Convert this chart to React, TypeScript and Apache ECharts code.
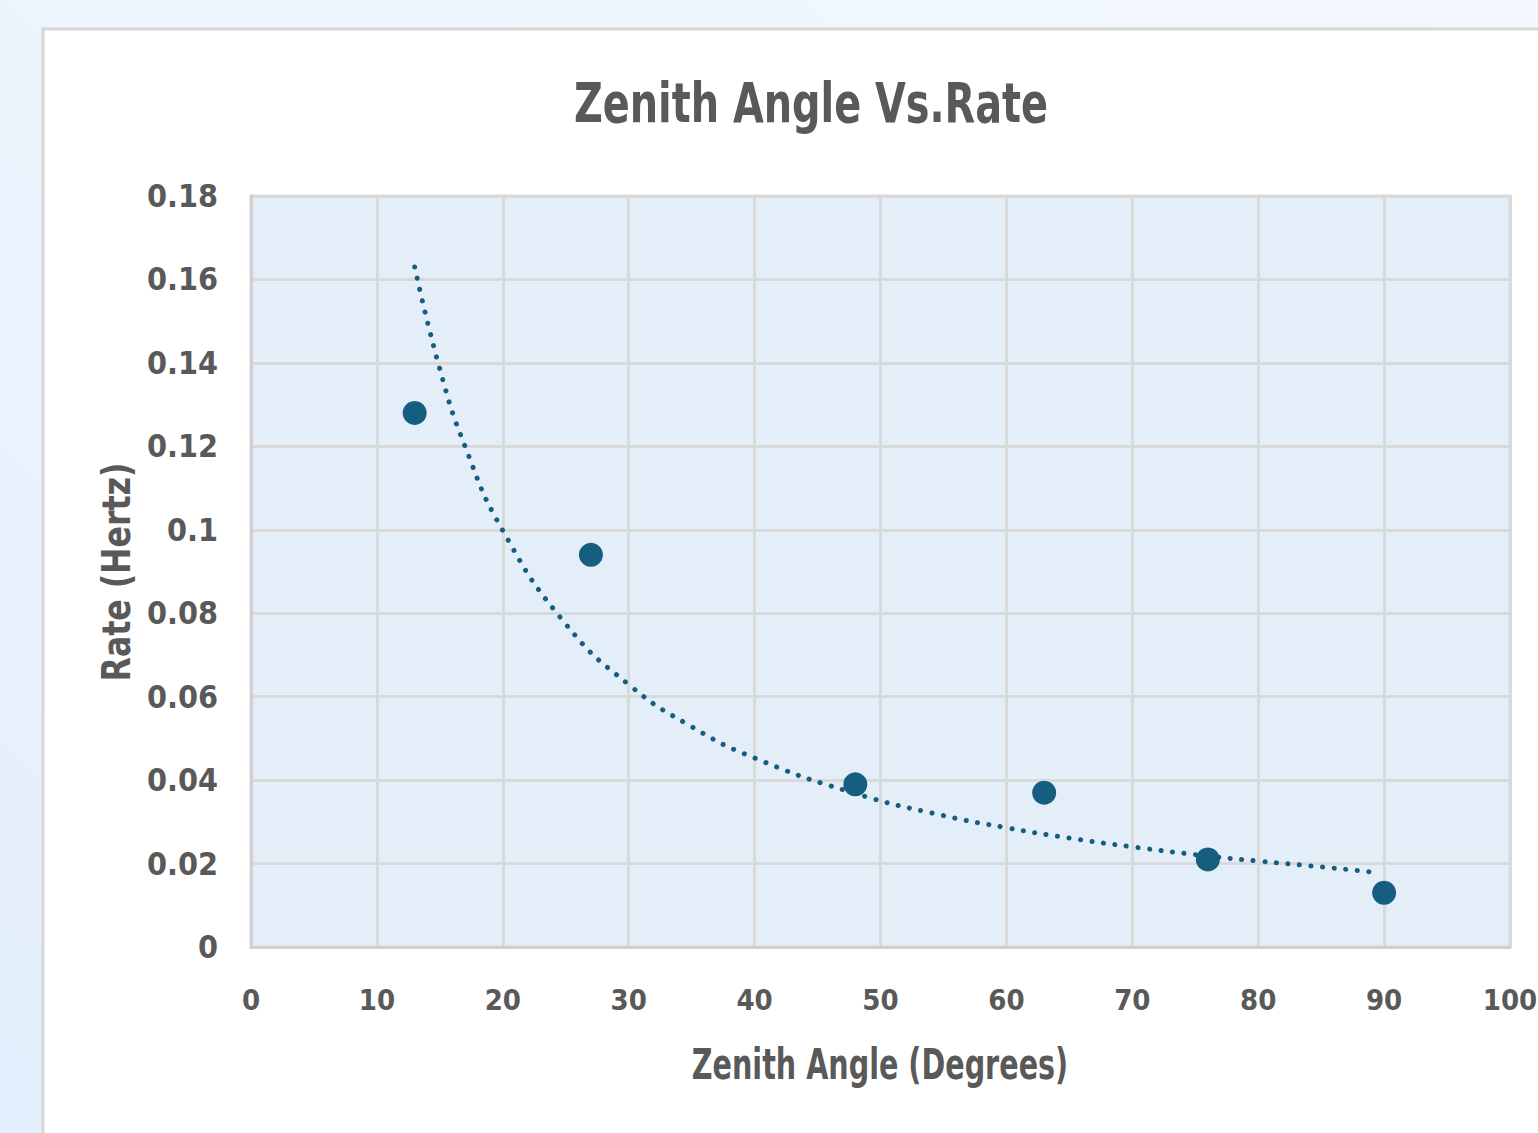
import React, { useEffect, useRef } from "react";
import * as echarts from "echarts";

const angles = [13, 27, 48, 63, 76, 90];
const rates = [0.128, 0.094, 0.039, 0.037, 0.021, 0.013];

// trendline
const trendX = [13, 15, 17, 20, 25, 30, 35, 40, 48, 55, 60, 65, 70, 76, 80, 85, 89.5];
const trendY = [0.163, 0.1385, 0.12, 0.0998, 0.0774, 0.0629, 0.0528, 0.0453, 0.0368, 0.0315, 0.0286, 0.0261, 0.024, 0.0218, 0.0206, 0.0192, 0.0178];

const yTicks = ["0", "0.02", "0.04", "0.06", "0.08", "0.1", "0.12", "0.14", "0.16", "0.18"];

const TITLE = "Zenith Angle Vs.Rate";
const X_NAME = "Zenith Angle (Degrees)";
const Y_NAME = "Rate (Hertz)";

const FONT = "'DejaVu Sans', sans-serif";
const GRAY = "#595959";
const BLUE = "#165e80";

export default function App() {
  const ref = useRef<HTMLDivElement>(null);
  useEffect(() => {
    if (!ref.current) return;
    const chart = echarts.init(ref.current, undefined, { renderer: "svg" });
    chart.setOption({
      animation: false,
      graphic: [
        {
          type: "rect",
          z: -10,
          shape: { x: 43, y: 29, width: 1540, height: 1120 },
          style: { fill: "#ffffff", stroke: "#d6d6d6", lineWidth: 3 },
        },
        {
          type: "text",
          x: 811,
          y: 103,
          scaleX: 0.79,
          style: {
            text: TITLE,
            fontFamily: FONT,
            fontWeight: "bold",
            fontSize: 56,
            fill: GRAY,
            textAlign: "center",
            textVerticalAlign: "middle",
          },
        },
        {
          type: "text",
          x: 880,
          y: 1064,
          scaleX: 0.74,
          style: {
            text: X_NAME,
            fontFamily: FONT,
            fontWeight: "bold",
            fontSize: 43,
            fill: GRAY,
            textAlign: "center",
            textVerticalAlign: "middle",
          },
        },
        {
          type: "text",
          x: 117,
          y: 572,
          rotation: Math.PI / 2,
          scaleX: 0.9,
          style: {
            text: Y_NAME,
            fontFamily: FONT,
            fontWeight: "bold",
            fontSize: 39,
            fill: GRAY,
            textAlign: "center",
            textVerticalAlign: "middle",
          },
        },
      ],
      grid: {
        left: 251,
        top: 196,
        right: 28,
        bottom: 186,
        containLabel: false,
        outerBoundsMode: "none",
        show: true,
        backgroundColor: "#e4eef9",
        borderColor: "#d9d9d9",
        borderWidth: 3,
      },
      xAxis: {
        type: "value",
        min: 0,
        max: 100,
        interval: 10,
        axisLine: { show: true, lineStyle: { color: "#d0d0d0", width: 3 } },
        axisTick: { show: false },
        splitLine: { show: true, lineStyle: { color: "#d9d9d9", width: 3 } },
        axisLabel: { fontFamily: FONT, fontWeight: "bold", fontSize: 29, color: GRAY, margin: 38 },
      },
      yAxis: {
        type: "value",
        min: 0,
        max: 0.18,
        interval: 0.02,
        axisLine: { show: true, lineStyle: { color: "#d0d0d0", width: 3 } },
        axisTick: { show: false },
        splitLine: { show: true, lineStyle: { color: "#d9d9d9", width: 3 } },
        axisLabel: {
          fontFamily: FONT,
          fontWeight: "bold",
          fontSize: 32,
          color: GRAY,
          margin: 33,
          formatter: (v: number) => {
            const i = Math.round(v / 0.02);
            return yTicks[i] ?? String(v);
          },
        },
      },
      series: [
        {
          type: "line",
          data: trendX.map((x, i) => [x, trendY[i]]),
          smooth: true,
          showSymbol: false,
          symbol: "none",
          lineStyle: { color: BLUE, width: 5, type: [0.1, 11.5], cap: "round" },
          z: 2,
        },
        {
          type: "scatter",
          data: angles.map((a, i) => [a, rates[i]]),
          symbolSize: 24,
          itemStyle: { color: BLUE, opacity: 1 },
          z: 3,
        },
      ],
    });
    return () => chart.dispose();
  }, []);
  return (
    <div
      style={{
        position: "fixed",
        left: 0,
        top: 0,
        width: 1538,
        height: 1133,
        background: "linear-gradient(45deg, #e3eefc 0%, #eef5fe 50%, #f3f8fe 100%)",
      }}
    >
      <style>{"#root svg text { font-stretch: condensed !important; }"}</style>
      <div ref={ref} style={{ width: 1538, height: 1133 }} />
    </div>
  );
}
